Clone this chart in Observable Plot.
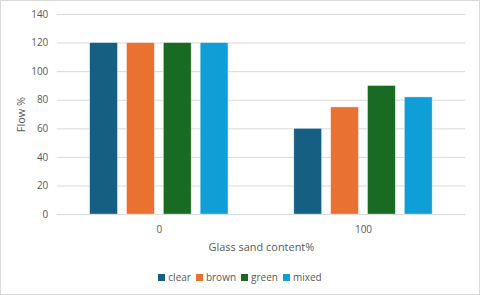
<!DOCTYPE html>
<html>
<head>
<meta charset="utf-8">
<script src="https://cdn.jsdelivr.net/npm/d3@7"></script>
<script src="https://cdn.jsdelivr.net/npm/@observablehq/plot@0.6"></script>
<style>
  html, body { margin: 0; padding: 0; background: #fff; }
  #wrap { width: 478px; height: 293px; border: 1px solid #d9d9d9; position: relative; overflow: hidden; font-family: "Open Sans", "Liberation Sans", sans-serif; }
  #chart svg { display: block; position: absolute; left: -1px; top: -1px; }
  #legend { position: absolute; left: 0; width: 480px; top: 269px; display: flex; justify-content: center; gap: 5px; font-size: 10px; color: #595959; margin-left: -1px; }
  #legend span.item { display: inline-flex; align-items: center; gap: 3px; }
  #legend span.sw { width: 7px; height: 7px; display: inline-block; }
</style>
</head>
<body>
<div id="wrap"><div id="chart"></div><div id="legend"></div></div>
<script>
const groups = ["0", "100"];
const series = ["clear", "brown", "green", "mixed"];
const clearVals = [120, 60];
const brownVals = [120, 75];
const greenVals = [120, 90];
const mixedVals = [120, 82];
const colors = ["#156082", "#E97132", "#196B24", "#0F9ED5"];
const yTicks = [0, 20, 40, 60, 80, 100, 120, 140];

const valuesBySeries = [clearVals, brownVals, greenVals, mixedVals];
const data = [];
groups.forEach((g, gi) => series.forEach((s, si) => data.push({group: g, series: s, value: valuesBySeries[si][gi]})));

const chart = Plot.plot({
  width: 480,
  height: 262,
  marginTop: 14,
  marginBottom: 47,
  marginLeft: 57,
  marginRight: 13,
  style: {fontFamily: "'Open Sans', 'Liberation Sans', sans-serif", fontSize: "10px", color: "#595959", background: "transparent"},
  fx: {domain: groups, padding: 0, label: "Glass sand content%", labelAnchor: "center", labelOffset: 37, tickSize: 0, tickPadding: 11},
  x: {domain: series, axis: null, paddingInner: 0.23, paddingOuter: 0.84},
  y: {domain: [0, 140], ticks: yTicks, label: "Flow %", labelAnchor: "center", labelOffset: 40, labelArrow: "none", tickSize: 0, tickPadding: 9},
  color: {domain: series, range: colors},
  marks: [
    Plot.ruleY(yTicks, {stroke: "#d9d9d9", strokeWidth: 1}),
    Plot.barY(data, {fx: "group", x: "series", y: "value", fill: "series", stroke: "#ffffff", strokeOpacity: 0.6, strokeWidth: 0.75})
  ]
});
chart.querySelectorAll("[aria-label='fx-axis label'] text, [aria-label='y-axis label'] text").forEach(t => t.setAttribute("font-size", "11px"));
document.getElementById("chart").appendChild(chart);

const legend = document.getElementById("legend");
series.forEach((s, i) => {
  const item = document.createElement("span");
  item.className = "item";
  const sw = document.createElement("span");
  sw.className = "sw";
  sw.style.background = colors[i];
  item.appendChild(sw);
  item.appendChild(document.createTextNode(s));
  legend.appendChild(item);
});
</script>
</body>
</html>
